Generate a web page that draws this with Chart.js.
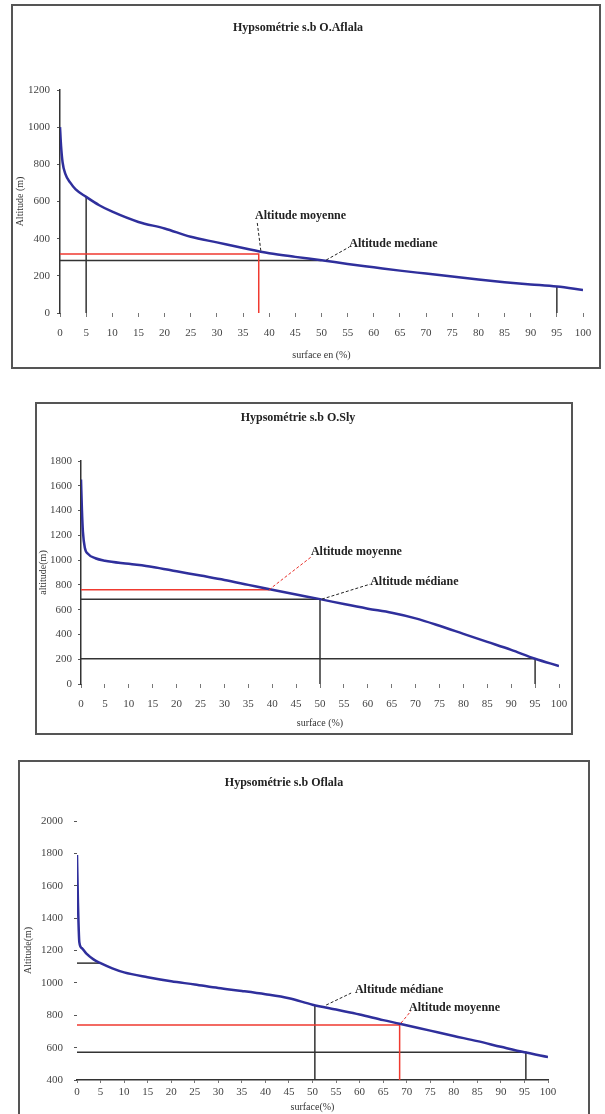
<!DOCTYPE html>
<html>
<head>
<meta charset="utf-8">
<script src="https://cdn.jsdelivr.net/npm/chart.js@4.4.1/dist/chart.umd.min.js"></script>
<style>
  html, body { margin:0; padding:0; background:#fff; width:605px; height:1114px; overflow:hidden; }
  .frame { position:absolute; border:2px solid #555; box-sizing:border-box; }
  canvas { position:absolute; }
</style>
</head>
<body>
<div class="frame" style="left:11px;top:4px;width:590px;height:365px"></div>
<canvas id="c1" width="585" height="360" style="left:13px;top:6px"></canvas>

<div class="frame" style="left:35px;top:402px;width:538px;height:333px"></div>
<canvas id="c2" width="534" height="329" style="left:37px;top:404px"></canvas>

<div class="frame" style="left:18px;top:760px;width:572px;height:370px"></div>
<canvas id="c3" width="568" height="352" style="left:20px;top:762px"></canvas>

<script>
// --- courbe 1 : O.Aflala
var surface1  = [0, 0.2, 0.5, 1, 2, 3, 5, 7.5, 10, 15, 20, 25, 30, 35, 40, 45, 50, 55, 60, 65, 70, 75, 80, 85, 90, 95, 100];
var altitude1 = [1000, 900, 810, 750, 700, 665, 625, 580, 545, 490, 455, 410, 380, 350, 322, 302, 284, 264, 246, 228, 212, 196, 180, 166, 154, 142, 124];

// --- courbe 2 : O.Sly
var surface2  = [0, 0.2, 0.4, 0.8, 1.5, 3, 5, 10, 15, 20, 25, 30, 35, 40, 45, 50, 55, 60, 65, 70, 75, 80, 85, 90, 95, 100];
var altitude2 = [1650, 1400, 1230, 1100, 1050, 1015, 995, 970, 945, 910, 875, 840, 800, 760, 722, 685, 645, 608, 575, 530, 470, 405, 340, 275, 204, 145];

// --- courbe 3 : Oflala
var surface3  = [0, 0.2, 0.5, 1, 2, 3.5, 5, 7.5, 10, 15, 20, 25, 30, 35, 40, 45, 50, 55, 60, 65, 68.5, 75, 80, 85, 90, 95, 100];
var altitude3 = [1790, 1500, 1250, 1215, 1180, 1145, 1122, 1090, 1065, 1035, 1010, 990, 968, 950, 930, 905, 865, 835, 805, 770, 748, 705, 672, 640, 605, 571, 542];

// traits de lecture (surface %, altitude m)
var blackLines1 = [[[5, 0], [5, 625]], [[0, 282], [50, 282]], [[95, 0], [95, 142]]];
var redLines1   = [[[0, 318], [38, 318], [38, 0]]];
var blackLines2 = [[[0, 685], [50, 685], [50, 0]], [[0, 204], [95, 204], [95, 0]]];
var redLines2   = [[[0, 760], [39.5, 760]]];
var blackLines3 = [[[0, 1122], [5, 1122]], [[50.5, 863], [50.5, 400]], [[0, 571], [95.3, 571], [95.3, 400]]];
var redLines3   = [[[0, 740], [68.5, 740], [68.5, 400]]];

// étiquettes : texte, début du trait, fin du trait, position du texte
var labels1 = [
  { text: 'Altitude moyenne', from: [38.4, 335], to: [37.7, 489], at: [37.3, 521], color: '#222' },
  { text: 'Altitude mediane', from: [50.9, 285], to: [55.3, 355], at: [55.3, 371], color: '#222' }
];
var labels2 = [
  { text: 'Altitude moyenne', from: [39.3, 760], to: [48.1, 1024], at: [48.1, 1065], color: '#e8302a' },
  { text: 'Altitude médiane', from: [50.4, 685], to: [60.5, 806], at: [60.5, 823], color: '#222' }
];
var labels3 = [
  { text: 'Altitude médiane', from: [52.9, 863], to: [58.2, 937], at: [59, 955], color: '#222' },
  { text: 'Altitude moyenne', from: [68.8, 752], to: [70.9, 826], at: [70.5, 844], color: '#e8302a' }
];

var SERIF = "'Liberation Serif', 'DejaVu Serif', serif";
var BLUE = '#2f2f9c';
var RED = '#f03a30';
var DARK = '#333';

var annotPlugin = {
  id: 'annot',
  afterDatasetsDraw: function(chart, args, opts) {
    var ctx = chart.ctx, x = chart.scales.x, y = chart.scales.y;
    (opts.items || []).forEach(function(a) {
      ctx.save();
      ctx.strokeStyle = a.color;
      ctx.lineWidth = 1;
      ctx.setLineDash([3, 2]);
      ctx.beginPath();
      ctx.moveTo(x.getPixelForValue(a.from[0]), y.getPixelForValue(a.from[1]));
      ctx.lineTo(x.getPixelForValue(a.to[0]), y.getPixelForValue(a.to[1]));
      ctx.stroke();
      ctx.setLineDash([]);
      ctx.font = 'bold 12px ' + SERIF;
      ctx.fillStyle = '#222';
      ctx.textAlign = 'left';
      ctx.textBaseline = 'middle';
      ctx.fillText(a.text, x.getPixelForValue(a.at[0]), y.getPixelForValue(a.at[1]));
      ctx.restore();
    });
  }
};

function toPoints(xs, ys) {
  return xs.map(function(v, i) { return { x: v, y: ys[i] }; });
}

function lineSet(pts, color) {
  return {
    data: pts.map(function(p) { return { x: p[0], y: p[1] }; }),
    showLine: true, borderColor: color, borderWidth: 1.5,
    pointRadius: 0, tension: 0
  };
}

function hypsoChart(id, c) {
  var sets = [{
    data: toPoints(c.surface, c.altitude),
    showLine: true, borderColor: BLUE, borderWidth: 2.5,
    pointRadius: 0, cubicInterpolationMode: 'monotone'
  }];
  c.red.forEach(function(l) { sets.push(lineSet(l, RED)); });
  c.black.forEach(function(l) { sets.push(lineSet(l, DARK)); });

  new Chart(document.getElementById(id), {
    type: 'scatter',
    data: { datasets: sets },
    plugins: [annotPlugin],
    options: {
      responsive: false,
      animation: false,
      layout: { padding: { left: 0, right: c.padRight, top: 0, bottom: 0 } },
      plugins: {
        legend: { display: false },
        tooltip: { enabled: false },
        title: {
          display: true, text: c.title, color: '#222',
          font: { family: SERIF, size: 12, weight: 'bold' },
          padding: { top: c.titleTop, bottom: c.titleBottom }
        },
        annot: { items: c.labels }
      },
      scales: {
        x: {
          type: 'linear', min: 0, max: 100,
          afterFit: function(s) {
            s.height = c.xHeight;
            // laisser la marge droite au layout
            s.paddingLeft = 0;
            s.paddingRight = 0;
          },
          border: { display: c.xBorder, color: DARK, width: 1.5 },
          grid: { drawOnChartArea: false, drawTicks: true, tickLength: c.xTick, color: '#777' },
          ticks: { stepSize: 5, padding: c.xPad, color: '#444', maxRotation: 0, autoSkip: false,
                   font: { family: SERIF, size: 11 } },
          title: { display: true, text: c.xTitle, color: '#333',
                   font: { family: SERIF, size: 10 }, padding: { top: 0, bottom: c.xTitlePad } }
        },
        y: {
          type: 'linear', min: c.yMin, max: c.yMax,
          afterFit: function(s) { s.width = c.yWidth; },
          border: { display: c.yBorder, color: DARK, width: 1.5 },
          grid: { drawOnChartArea: false, drawTicks: true, tickLength: 3, color: '#555' },
          ticks: { stepSize: 200, padding: c.yPad, color: '#444',
                   font: { family: SERIF, size: 11 },
                   callback: function(v) { return String(v); } },
          title: { display: true, text: c.yTitle, color: '#333',
                   font: { family: SERIF, size: 10 }, padding: { top: c.yTitlePad, bottom: 0 } }
        }
      }
    }
  });
}

hypsoChart('c1', {
  surface: surface1, altitude: altitude1, red: redLines1, black: blackLines1, labels: labels1,
  title: 'Hypsométrie s.b O.Aflala', xTitle: 'surface en (%)', yTitle: 'Altitude (m)',
  yMin: 0, yMax: 1200,
  padRight: 15, titleTop: 15, titleBottom: 54.6,
  xHeight: 53, xTick: 4, xPad: 10, xTitlePad: 5, xBorder: false,
  yWidth: 47, yPad: 7, yTitlePad: 1, yBorder: true
});

hypsoChart('c2', {
  surface: surface2, altitude: altitude2, red: redLines2, black: blackLines2, labels: labels2,
  title: 'Hypsométrie s.b O.Sly', xTitle: 'surface (%)', yTitle: 'altitude(m)',
  yMin: 0, yMax: 1800,
  padRight: 12, titleTop: 7, titleBottom: 35.6,
  xHeight: 49, xTick: 4, xPad: 10, xTitlePad: 4, xBorder: false,
  yWidth: 44, yPad: 6, yTitlePad: 0, yBorder: true
});

hypsoChart('c3', {
  surface: surface3, altitude: altitude3, red: redLines3, black: blackLines3, labels: labels3,
  title: 'Hypsométrie s.b Oflala', xTitle: 'surface(%)', yTitle: 'Altitude(m)',
  yMin: 400, yMax: 2000,
  padRight: 40, titleTop: 14, titleBottom: 30.6,
  xHeight: 34, xTick: 3, xPad: 3, xTitlePad: 1, xBorder: true,
  yWidth: 57, yPad: 11, yTitlePad: 2, yBorder: false
});
</script>
</body>
</html>
